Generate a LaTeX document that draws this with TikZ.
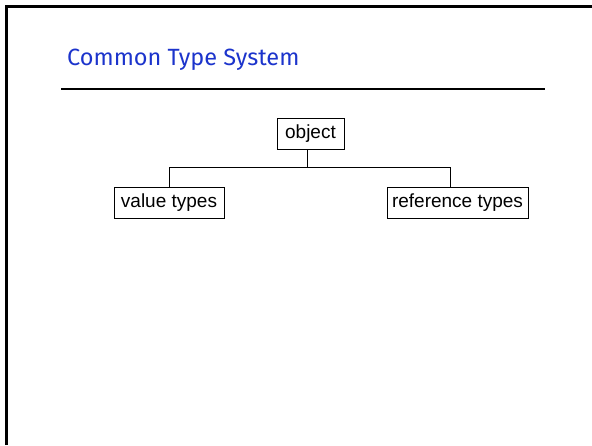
\documentclass[tikz,border=0pt]{standalone}
\usepackage{fontspec}
\setmainfont{Liberation Sans}
\newfontfamily\titlefont{Fira Sans}
\definecolor{titleblue}{RGB}{28,52,204}
\begin{document}
\begin{tikzpicture}[x=1pt,y=-1pt,
  typebox/.style={draw=black,line width=1pt,inner sep=0pt,minimum height=31pt,font=\fontsize{19}{22}\selectfont},
  branch/.style={draw=black,line width=1pt}]
\useasboundingbox (0,0) rectangle (592,445);
\fill[white] (0,0) rectangle (592,445);
% slide frame (top and left edges)
\draw[line width=3pt] (6.5,445) -- (6.5,6.3) -- (592,6.3);
% title and rule
\node[anchor=base west,inner sep=0pt,text=titleblue,font=\titlefont\fontsize{23.5}{27}\selectfont] (title) at (67,65) {Common Type System};
\draw[line width=2pt] (61,89) -- (545,89);
% hierarchy
\node[typebox,minimum width=67pt] (obj) at (310.5,133.5) {object};
\node[typebox,minimum width=110pt] (val) at (169,203) {value types};
\node[typebox,minimum width=141pt] (ref) at (457.5,203) {reference types};
\coordinate (junc) at (307,167);
\coordinate (vdrop) at (169,167);
\coordinate (rdrop) at (450,167);
\draw[branch] (obj.south -| junc) -- (junc);
\draw[branch] (val.north -| vdrop) -- (vdrop) -- (rdrop) -- (ref.north -| rdrop);
\end{tikzpicture}
\end{document}
